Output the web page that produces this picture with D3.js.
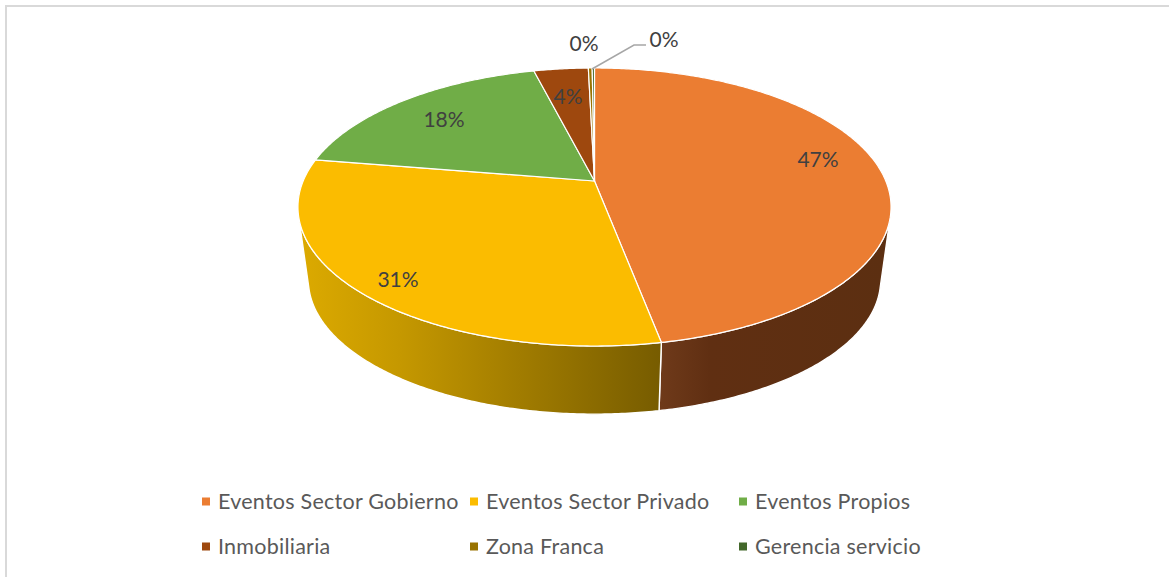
<!DOCTYPE html>
<html>
<head>
<meta charset="utf-8">
<script src="https://d3js.org/d3.v7.min.js"></script>
<style>
  html, body { margin: 0; padding: 0; background: #fff; }
  svg { display: block; font-family: Lato, sans-serif; }
  .label { font-size: 21px; fill: #404040; text-anchor: middle; }
  .legend-item { font-size: 21.5px; fill: #595959; letter-spacing: 0.25px; }
</style>
</head>
<body>
<svg id="chart" width="1169" height="577"></svg>
<script>
const categories = ["Eventos Sector Gobierno", "Eventos Sector Privado", "Eventos Propios", "Inmobiliaria", "Zona Franca", "Gerencia servicio"];
const shares = [47, 30.6, 18.45, 3.55, 0.25, 0.15];
const percentLabels = ["47%", "31%", "18%", "4%", "0%", "0%"];
const colors = ["#eb7d32", "#fbbc00", "#70ad47", "#9e480e", "#997300", "#43682b"];

const svg = d3.select("#chart");

// tilted disc: unit circle -> screen, a homography fitted to the picture
const cx = 594.5;
const apexY = 181;
const tilt = 0.187;
const bend = -100.3;
const halfWidth = 291.3;
// the lower rim is the upper rim scaled about the ellipse centre
const rimScale = 0.965;
const ellipseY = 207;
const lowerY = 280;

function project(angle) {
  const u = Math.sin(angle);
  const v = Math.cos(angle);
  const w = 1 + tilt * v;
  return [cx + (halfWidth * u) / w, (bend * v + apexY) / w];
}

function projectLower(angle) {
  const [x, y] = project(angle);
  return [cx + rimScale * (x - cx), lowerY + rimScale * (y - ellipseY)];
}

function samples(a0, a1) {
  const n = Math.max(2, Math.ceil((a1 - a0) / 0.01));
  return d3.range(n + 1).map((i) => a0 + ((a1 - a0) * i) / n);
}

const line = d3.line();
const pie = d3.pie().sort(null).value((d) => d);
const arcs = pie(shares);

// chart frame: only the top and left edges show in the crop
svg.append("path")
  .attr("d", line([[6, 577], [6, 6], [1169, 6]]))
  .attr("fill", "none")
  .attr("stroke", "#d9d9d9")
  .attr("stroke-width", 2);

// gradients for the visible side walls
const defs = svg.append("defs");
function wallGradient(id, stops) {
  const first = stops[0][0];
  const last = stops[stops.length - 1][0];
  const g = defs.append("linearGradient")
    .attr("id", id)
    .attr("gradientUnits", "userSpaceOnUse")
    .attr("x1", first).attr("x2", last)
    .attr("y1", 0).attr("y2", 0);
  stops.forEach(([x, c]) => {
    g.append("stop")
      .attr("offset", (x - first) / (last - first))
      .attr("stop-color", c);
  });
}
wallGradient("wall0", [[660, "#6f3a1a"], [710, "#602f12"], [885, "#5c2f11"]]);
wallGradient("wall1", [[300, "#dcaa00"], [400, "#c59800"], [520, "#a17c00"], [660, "#775c00"]]);

// only the front of the rim shows: from the right tangent to the left tangent
const visibleFrom = (104 * Math.PI) / 180;
const visibleTo = (256 * Math.PI) / 180;

const walls = [0, 1];
svg.append("g").selectAll("path")
  .data(walls)
  .join("path")
  .attr("d", (i) => {
    const a0 = Math.max(arcs[i].startAngle, visibleFrom);
    const a1 = Math.min(arcs[i].endAngle, visibleTo);
    const angles = samples(a0, a1);
    return line(angles.map(project).concat(angles.reverse().map(projectLower))) + "Z";
  })
  .attr("fill", (i) => `url(#wall${i})`)
  .attr("stroke", "#fff")
  .attr("stroke-width", 1.4)
  .attr("stroke-linejoin", "round");

// top faces
svg.append("g").selectAll("path")
  .data(arcs)
  .join("path")
  .attr("d", (d) => line([[cx, apexY]].concat(samples(d.startAngle, d.endAngle).map(project))) + "Z")
  .attr("fill", (d, i) => colors[i])
  .attr("stroke", "#fff")
  .attr("stroke-width", 1.2)
  .attr("stroke-linejoin", "round");

// leader line of the last label
svg.append("path")
  .attr("d", line([[592, 69], [634, 45], [646, 45]]))
  .attr("fill", "none")
  .attr("stroke", "#a6a6a6")
  .attr("stroke-width", 1.5);

const labelPos = [[818, 160], [398, 280], [444, 120], [568, 97], [584, 44], [664, 40]];
svg.append("g").selectAll("text")
  .data(percentLabels)
  .join("text")
  .attr("class", "label")
  .attr("x", (d, i) => labelPos[i][0])
  .attr("y", (d, i) => labelPos[i][1])
  .attr("dy", "0.35em")
  .text((d) => d);

// legend, two rows of three
const legendX = d3.scaleOrdinal().domain([0, 1, 2]).range([202, 470, 739]);
const legendY = d3.scaleOrdinal().domain([0, 1]).range([501.5, 546.5]);
const legend = svg.append("g").selectAll("g")
  .data(categories)
  .join("g")
  .attr("transform", (d, i) => `translate(${legendX(i % 3)},${legendY(Math.floor(i / 3))})`);
legend.append("rect")
  .attr("x", 0).attr("y", -4)
  .attr("width", 8).attr("height", 8)
  .attr("fill", (d, i) => colors[i]);
legend.append("text")
  .attr("class", "legend-item")
  .attr("x", 16)
  .attr("dy", "0.35em")
  .text((d) => d);
</script>
</body>
</html>
